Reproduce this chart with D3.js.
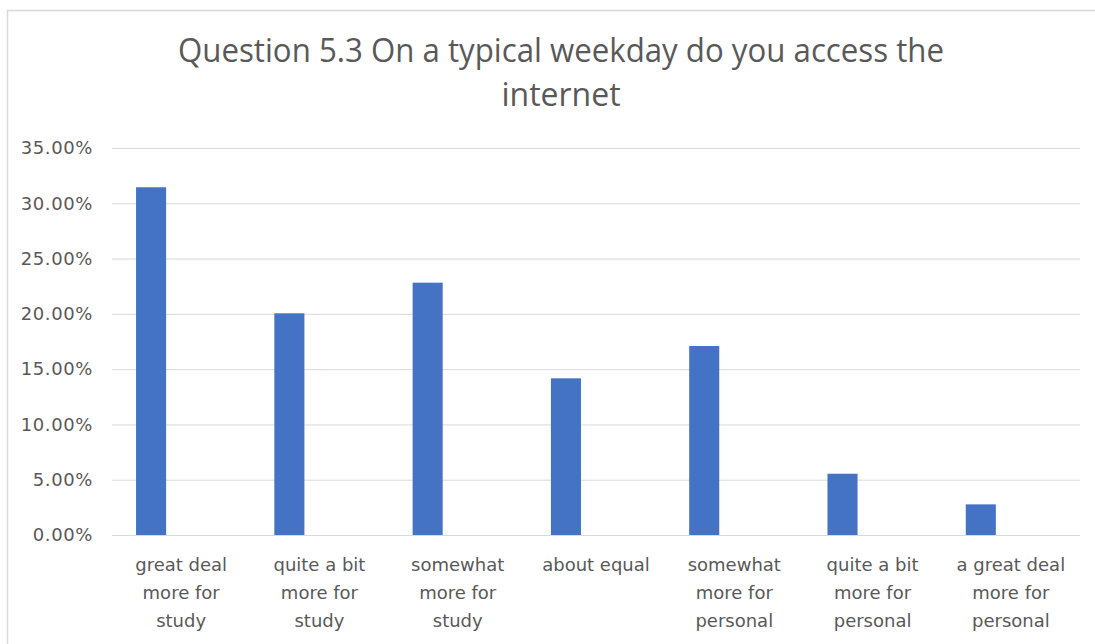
<!DOCTYPE html>
<html>
<head>
<meta charset="utf-8">
<script src="https://cdn.jsdelivr.net/npm/d3@7/dist/d3.min.js"></script>
<style>
  html, body { margin: 0; padding: 0; background: #ffffff; }
  svg { display: block; }
</style>
</head>
<body>
<svg id="chart" width="1095" height="644"></svg>
<script>
const titleLines = ["Question 5.3 On a typical weekday do you access the", "internet"];
const categories = [
  "great deal more for study",
  "quite a bit more for study",
  "somewhat more for study",
  "about equal",
  "somewhat more for personal",
  "quite a bit more for personal",
  "a great deal more for personal"
];
const categoryLines = [
  ["great deal", "more for", "study"],
  ["quite a bit", "more for", "study"],
  ["somewhat", "more for", "study"],
  ["about equal"],
  ["somewhat", "more for", "personal"],
  ["quite a bit", "more for", "personal"],
  ["a great deal", "more for", "personal"]
];
const values = [0.3145, 0.2005, 0.2282, 0.1417, 0.1709, 0.0554, 0.0277];
const yTicks = [0, 0.05, 0.10, 0.15, 0.20, 0.25, 0.30, 0.35];
const seriesSlots = ["s1", "s2", "s3"];

(function () {
const svg = d3.select("#chart");
const plotLeft = 112, plotRight = 1080, plotTop = 148, plotBottom = 535;
const textColor = "#595959";

// chart border
svg.append("rect")
  .attr("x", 7.5).attr("y", 10.5)
  .attr("width", 1100).attr("height", 650)
  .attr("fill", "none").attr("stroke", "#d9d9d9").attr("stroke-width", 1.5);

const x0 = d3.scaleBand().domain(categories).range([plotLeft, plotRight]).padding(0);
const x1 = d3.scaleBand().domain(seriesSlots).range([0, x0.bandwidth()])
  .paddingInner(0).paddingOuter(0.8);
const y = d3.scaleLinear().domain([0, 0.35]).range([plotBottom, plotTop]);

// gridlines + y labels via axis
const yAxis = d3.axisLeft(y).tickValues(yTicks)
  .tickFormat(d => (d * 100).toFixed(2) + "%")
  .tickSize(-(plotRight - plotLeft)).tickPadding(19);
const gy = svg.append("g").attr("transform", `translate(${plotLeft},0)`).call(yAxis);
gy.select(".domain").remove();
gy.selectAll(".tick line").attr("stroke", "#d9d9d9").attr("stroke-width", 1);
gy.selectAll(".tick text")
  .attr("fill", textColor)
  .attr("font-family", "'DejaVu Sans', sans-serif")
  .attr("font-size", "18px")
  .attr("letter-spacing", "0.6px");

// bars
svg.append("g").selectAll("rect").data(values).join("rect")
  .attr("x", (d, i) => x0(categories[i]) + x1("s1"))
  .attr("width", x1.bandwidth())
  .attr("y", d => y(d))
  .attr("height", d => y(0) - y(d))
  .attr("fill", "#4472c4");

// x labels
const gx = svg.append("g");
categories.forEach((c, i) => {
  const cx = x0(c) + x0.bandwidth() / 2;
  const t = gx.append("text")
    .attr("x", cx)
    .attr("y", 571)
    .attr("text-anchor", "middle")
    .attr("fill", textColor)
    .attr("font-family", "'DejaVu Sans', sans-serif")
    .attr("font-size", "18px");
  categoryLines[i].forEach((ln, j) => {
    t.append("tspan").attr("x", cx)
      .attr("dy", j === 0 ? 0 : 28).text(ln);
  });
});

// title
const titleFont = { family: "'Open Sans', sans-serif", size: "32px" };
svg.append("text")
  .attr("x", 561).attr("y", 62)
  .attr("text-anchor", "middle")
  .attr("fill", textColor)
  .attr("font-family", titleFont.family)
  .attr("font-size", titleFont.size)
  .attr("textLength", 766)
  .attr("lengthAdjust", "spacingAndGlyphs")
  .text(titleLines[0]);
svg.append("text")
  .attr("x", 561).attr("y", 106)
  .attr("text-anchor", "middle")
  .attr("fill", textColor)
  .attr("font-family", titleFont.family)
  .attr("font-size", titleFont.size)
  .text(titleLines[1]);
})();
</script>
</body>
</html>
